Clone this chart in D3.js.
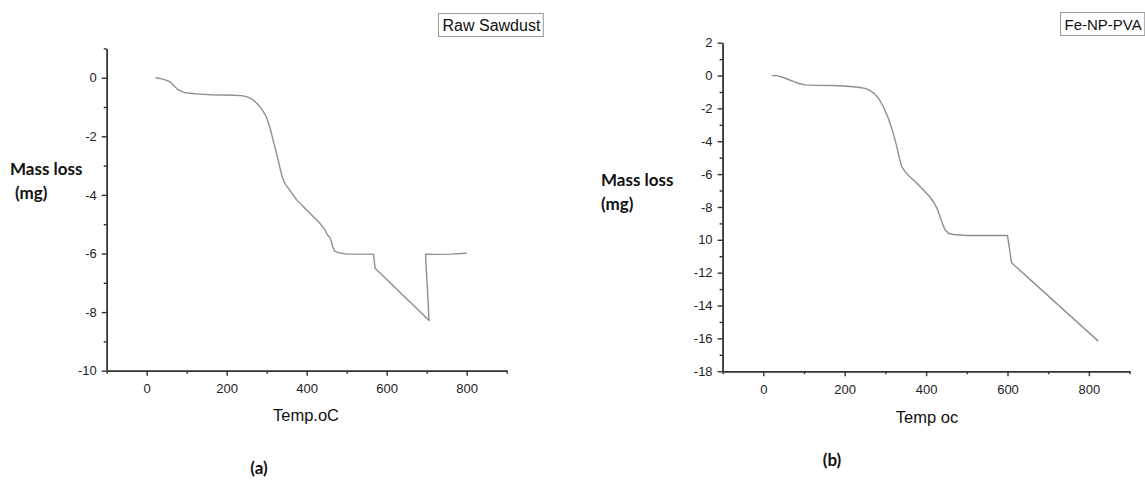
<!DOCTYPE html>
<html>
<head>
<meta charset="utf-8">
<script src="https://cdn.jsdelivr.net/npm/d3@7"></script>
<style>
  html, body { margin: 0; padding: 0; background: #fff; overflow: hidden; }
  svg { display: block; }
  .tick text { font-family: "Liberation Sans", Arial, sans-serif; font-size: 13px; fill: #222; }
  .axis path, .axis line { stroke: #333; stroke-width: 1.4; }
  .ylab, .panel { font-family: Lato, "Open Sans", sans-serif; font-weight: bold; fill: #111; }
  .xlab, .legend { font-family: "Liberation Sans", Arial, sans-serif; fill: #111; }
</style>
</head>
<body>
<svg id="chart" width="1145" height="484"></svg>
<script>
// TGA mass-loss curves: temperature (°C) and mass change (mg)
const sawdustTemp = [22, 35, 50, 58, 66, 72, 79, 85, 92, 100, 110, 120, 133, 160, 190, 220, 241, 255, 266, 275, 283, 291, 299, 308, 316, 324, 330, 338, 345, 354, 365, 375, 395, 415, 433, 445, 452, 458, 462, 465, 470, 479, 500, 530, 567, 571, 706, 697, 720, 760, 800];
const sawdustMass = [0, -0.03, -0.09, -0.14, -0.25, -0.33, -0.42, -0.45, -0.5, -0.52, -0.53, -0.55, -0.56, -0.58, -0.59, -0.6, -0.62, -0.67, -0.76, -0.87, -0.99, -1.15, -1.33, -1.7, -2.13, -2.55, -2.9, -3.35, -3.6, -3.77, -3.98, -4.17, -4.45, -4.72, -4.97, -5.18, -5.37, -5.45, -5.6, -5.77, -5.92, -5.97, -6.02, -6.02, -6.02, -6.5, -8.29, -6.02, -6.03, -6.02, -5.99];

const fenpTemp = [22, 35, 49, 65, 78, 90, 102, 130, 168, 200, 233, 250, 262, 273, 283, 295, 307, 318, 328, 334, 340, 348, 358, 375, 393, 408, 420, 428, 434, 440, 446, 455, 467, 500, 600, 610, 823];
const fenpMass = [0, -0.02, -0.12, -0.27, -0.4, -0.5, -0.57, -0.6, -0.61, -0.64, -0.71, -0.78, -0.91, -1.1, -1.38, -1.9, -2.59, -3.4, -4.31, -5.0, -5.53, -5.85, -6.12, -6.5, -6.95, -7.35, -7.76, -8.15, -8.57, -9.0, -9.38, -9.6, -9.68, -9.74, -9.74, -11.4, -16.17];

// Axis ticks and labels
const xMajorTicks = [0, 200, 400, 600, 800];
const xMinorTicks = [-100, 100, 300, 500, 700, 900];
const xTickLabels = ["0", "200", "400", "600", "800"];

const sawdustYMajor = [-10, -8, -6, -4, -2, 0];
const sawdustYMinor = [-9, -7, -5, -3, -1, 1];
const sawdustYLabels = ["-10", "-8", "-6", "-4", "-2", "0"];

const fenpYMajor = [-18, -16, -14, -12, -10, -8, -6, -4, -2, 0, 2];
const fenpYMinor = [-17, -15, -13, -11, -9, -7, -5, -3, -1, 1];
const fenpYLabels = ["-18", "-16", "-14", "-12", "10", "-8", "-6", "-4", "-2", "0", "2"];

const svg = d3.select("#chart");

function drawPanel(p) {
  const x = d3.scaleLinear().domain(p.xDomain).range(p.xRange);
  const y = d3.scaleLinear().domain(p.yDomain).range(p.yRange);
  const g = svg.append("g");

  // minor ticks (no labels)
  g.append("g").attr("class", "axis")
    .attr("transform", `translate(0,${p.yRange[0]})`)
    .call(d3.axisBottom(x).tickValues(xMinorTicks).tickSize(3).tickSizeOuter(0).tickFormat(""));
  g.append("g").attr("class", "axis")
    .attr("transform", `translate(${p.xRange[0]},0)`)
    .call(d3.axisLeft(y).tickValues(p.yMinor).tickSize(3).tickSizeOuter(0).tickFormat(""));

  // major ticks with labels
  g.append("g").attr("class", "axis")
    .attr("transform", `translate(0,${p.yRange[0]})`)
    .call(d3.axisBottom(x).tickValues(xMajorTicks).tickSize(5).tickSizeOuter(0).tickPadding(p.xPad)
      .tickFormat((d, i) => xTickLabels[i]));
  g.append("g").attr("class", "axis")
    .attr("transform", `translate(${p.xRange[0]},0)`)
    .call(d3.axisLeft(y).tickValues(p.yMajor).tickSize(5).tickSizeOuter(0).tickPadding(5)
      .tickFormat((d, i) => p.yLabels[i]));

  // curve
  const pts = p.temp.map((t, i) => [t, p.mass[i]]);
  g.append("path")
    .datum(pts)
    .attr("fill", "none")
    .attr("stroke", "#8f8f8f")
    .attr("stroke-width", 1.4)
    .attr("stroke-linejoin", "round")
    .attr("d", d3.line().x(d => x(d[0])).y(d => y(d[1])));

  // axis titles
  g.append("text").attr("class", "xlab")
    .attr("x", p.xTitlePos[0]).attr("y", p.xTitlePos[1])
    .attr("text-anchor", "middle").attr("font-size", 16.5)
    .text(p.xTitle);
  g.append("text").attr("class", "ylab")
    .attr("x", p.yTitlePos[0]).attr("y", p.yTitlePos[1])
    .attr("font-size", 17).text("Mass loss");
  g.append("text").attr("class", "ylab")
    .attr("x", p.yTitlePos[0] + p.mgIndent).attr("y", p.yTitlePos[1] + 24)
    .attr("font-size", 17).text("(mg)");

  // legend box
  const lg = g.append("g").attr("transform", `translate(${p.legendPos[0]},${p.legendPos[1]})`);
  const lt = lg.append("text").attr("class", "legend")
    .attr("x", 4).attr("y", 17).attr("font-size", p.legendSize)
    .text(p.legend);
  const w = lt.node().getComputedTextLength();
  lg.insert("rect", "text")
    .attr("x", 0).attr("y", 0).attr("width", w + 7).attr("height", 23)
    .attr("fill", "#fff").attr("stroke", "#999").attr("stroke-width", 1);

  // panel label
  g.append("text").attr("class", "panel")
    .attr("x", p.panelPos[0]).attr("y", p.panelPos[1])
    .attr("text-anchor", "middle").attr("font-size", 17)
    .text(p.panel);
}

drawPanel({
  temp: sawdustTemp, mass: sawdustMass,
  xDomain: [-100, 900], xRange: [106.7, 506.7],
  yDomain: [-10, 1], yRange: [370.7, 48.4],
  yMajor: sawdustYMajor, yMinor: sawdustYMinor, yLabels: sawdustYLabels,
  xPad: 8,
  xTitle: "Temp.oC", xTitlePos: [306, 421],
  yTitlePos: [10, 175], mgIndent: 5,
  legend: "Raw Sawdust", legendSize: 16, legendPos: [438.5, 13.5],
  panel: "(a)", panelPos: [259, 474]
});

drawPanel({
  temp: fenpTemp, mass: fenpMass,
  xDomain: [-100, 900], xRange: [722.6, 1129.6],
  yDomain: [-18, 2], yRange: [371.2, 42.7],
  yMajor: fenpYMajor, yMinor: fenpYMinor, yLabels: fenpYLabels,
  xPad: 9,
  xTitle: "Temp oc", xTitlePos: [927, 423],
  yTitlePos: [601, 186], mgIndent: 0,
  legend: "Fe-NP-PVA", legendSize: 15, legendPos: [1060.5, 12.5],
  panel: "(b)", panelPos: [832, 466]
});
</script>
</body>
</html>
